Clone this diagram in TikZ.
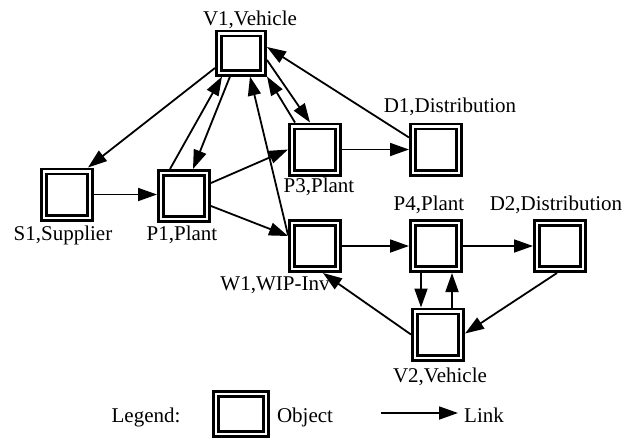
\documentclass[tikz,border=0pt]{standalone}
\usepackage{fontspec}
\setmainfont{Liberation Serif}
\usetikzlibrary{arrows.meta,calc}

\tikzset{
  obj/.style={draw, double, line width=2.6pt, double distance=2.4pt,
    inner sep=0pt, outer sep=3.8pt,
    minimum width=46.4pt, minimum height=46.4pt},
  link/.style={line width=1.8pt,
    -{Triangle[length=19pt,width=13pt]}},
  lbl/.style={anchor=base, inner sep=0pt, font=\fontsize{21}{25}\selectfont}
}

\begin{document}
\begin{tikzpicture}[x=1pt, y=-1pt]
\useasboundingbox (0,0) rectangle (623,445);

% objects
\node[obj, minimum width=44.4pt, minimum height=39.4pt] (V1) at (241,53) {};
\node[obj] (S1) at (67,194.5) {};
\node[obj] (P1) at (184,196) {};
\node[obj] (P3) at (315,149.5) {};
\node[obj] (D1) at (436,149.5) {};
\node[obj] (W1) at (315,246) {};
\node[obj] (P4) at (436,246) {};
\node[obj] (D2) at (560,246) {};
\node[obj] (V2) at (438,334.5) {};

% labels
\node[lbl] (tV1) at (250,25) {V1,Vehicle};
\node[lbl] (tS1) at (63,240) {S1,Supplier};
\node[lbl] (tP1) at (182,240) {P1,Plant};
\node[lbl] (tP3) at (319,192) {P3,Plant};
\node[lbl] (tD1) at (450,112) {D1,Distribution};
\node[lbl] (tW1) at (275,290) {W1,WIP-Inv};
\node[lbl] (tP4) at (429,210) {P4,Plant};
\node[lbl] (tD2) at (556,210) {D2,Distribution};
\node[lbl] (tV2) at (440,382) {V2,Vehicle};

% links
\draw[link] ($(V1.west)+(0,15)$) -- ($(S1.north)+(21,0)$);
\draw[link] (S1.east) -- (S1.east -| P1.west);
\draw[link] ($(P1.north)+(-14,0)$) -- ($(V1.south)+(-19,0)$);
\draw[link] ($(V1.south)+(-11,0)$) -- ($(P1.north)+(9,0)$);
\draw[link] ($(P1.east)+(0,-13)$) -- (P3.west);
\draw[link] ($(P1.east)+(0,10)$) -- ($(W1.west)+(0,-10)$);
\draw[link] ($(W1.west)+(0,-11)$) -- ($(V1.south)+(9,0)$);
\draw[link] ($(P3.north)+(-20,0)$) -- (V1.south east);
\draw[link] ($(V1.east)+(0,7)$) -- ($(P3.north)+(-5,0)$);
\draw[link] ($(D1.west)+(0,-12)$) -- ($(V1.east)+(0,-6)$);
\draw[link] (P3.east) -- (D1.west);
\draw[link] (W1.east) -- (P4.west);
\draw[link] (P4.east) -- (D2.west);
\draw[link] ($(P4.south)+(-15,0)$) -- ($(V2.north)+(-17,0)$);
\draw[link] ($(V2.north)+(14,0)$) -- ($(P4.south)+(16,0)$);
\draw[link] ($(D2.south)+(-3,0)$) -- ($(V2.east)+(0,-1)$);
\draw[link] (V2.west) -- ($(W1.south)+(8,0)$);

% legend
\node[lbl] (tLeg) at (146,422) {Legend:};
\node[obj, minimum width=50.4pt, minimum height=40.4pt] (Lg) at (241,414) {};
\node[lbl] (tObj) at (305,422) {Object};
\coordinate (la) at (381,413);
\coordinate (lb) at (458,413);
\draw[link] (la) -- (lb);
\node[lbl] (tLink) at (484,422) {Link};
\end{tikzpicture}
\end{document}
